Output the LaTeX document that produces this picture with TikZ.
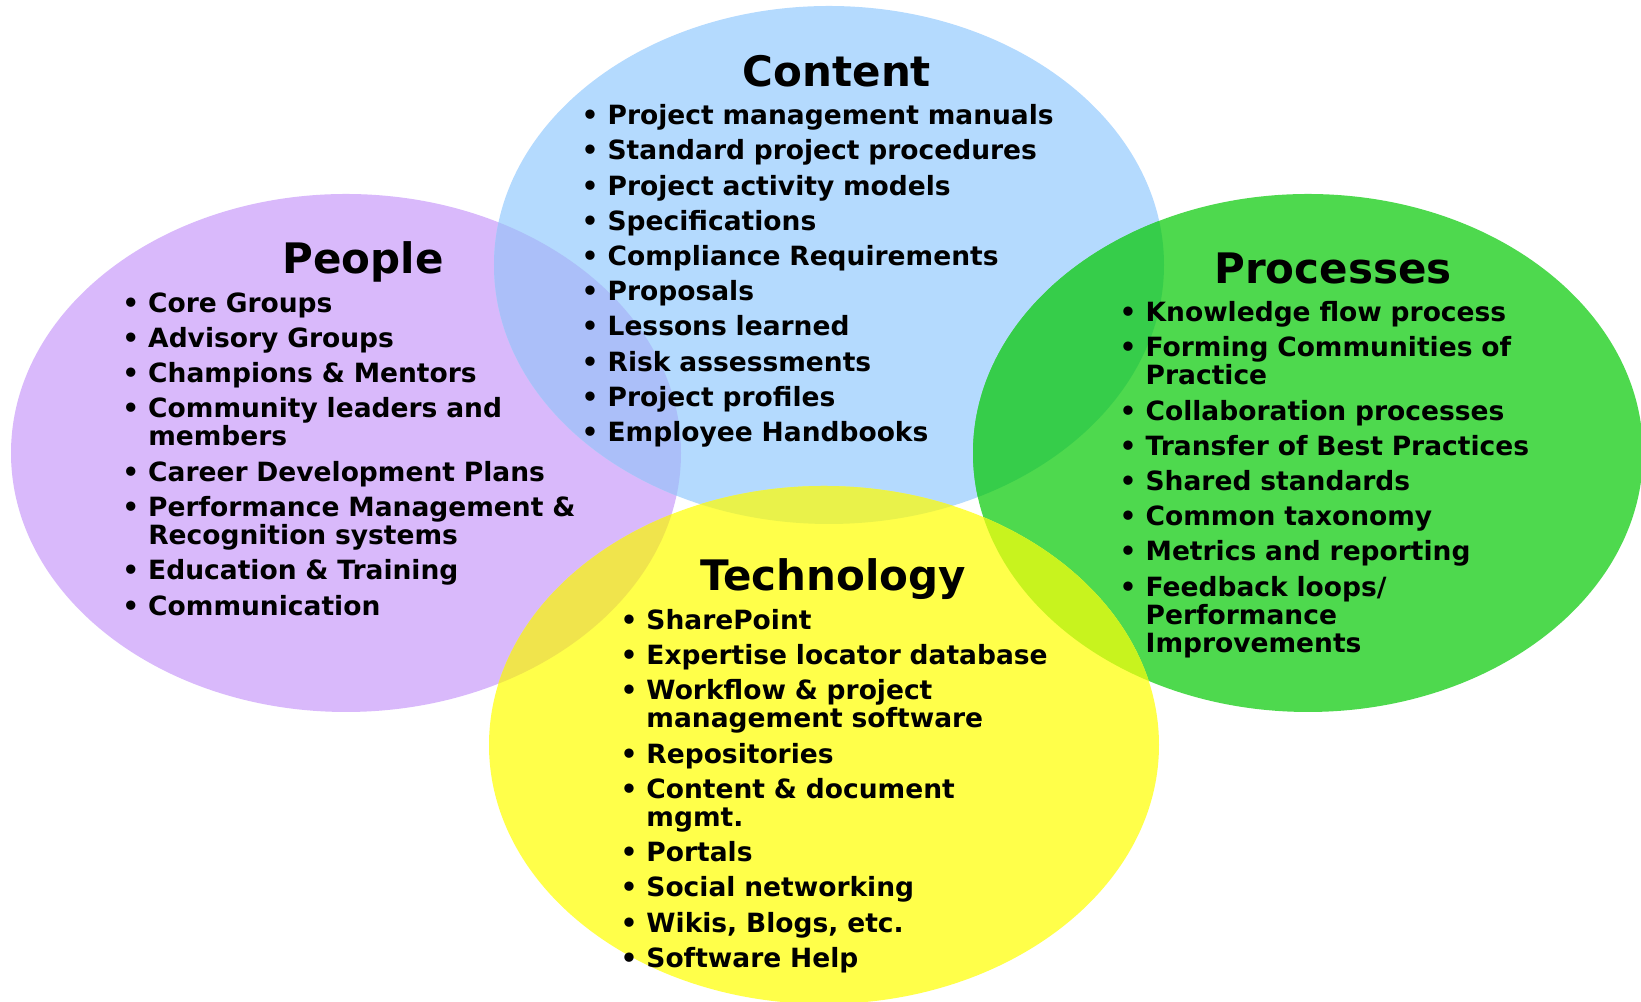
\documentclass[tikz,border=0pt]{standalone}
\usepackage{fontspec}
\setmainfont{DejaVu Sans}

\definecolor{peoplecol}{HTML}{D9B9FB}
\definecolor{contentcol}{HTML}{B4DAFE}
\definecolor{processcol}{HTML}{4ED94E}
\definecolor{techcol}{HTML}{FFFF4A}
\definecolor{pcmix}{HTML}{ABBFF9}
\definecolor{ptmix}{HTML}{F0E44C}
\definecolor{ctmix}{HTML}{E9F24A}
\definecolor{cpmix}{HTML}{36CD4A}
\definecolor{ptechmix}{HTML}{C8F31E}

% one bullet line, later lines hang under the text
\newcommand{\bitem}[1]{\setlength{\parskip}{0.069cm}\hangindent=0.98em\hangafter=1\noindent\makebox[0.98em][l]{\textbullet}#1\par}

\tikzset{
  heading/.style={font=\fontsize{11.95}{14}\selectfont\bfseries, anchor=base, inner sep=0pt},
  itemlist/.style={font=\fontsize{7.54}{8.05}\selectfont\bfseries, anchor=base west, inner sep=0pt, text width=5cm}
}

\begin{document}
\begin{tikzpicture}
  \useasboundingbox (0, 0) rectangle (16.41, 10.02);

  \coordinate (people) at (3.46, 5.49);
  \coordinate (content) at (8.29, 7.37);
  \coordinate (processes) at (13.08, 5.49);
  \coordinate (tech) at (8.24, 2.57);

  % the four sets
  \fill [peoplecol] (people) ellipse (3.35 and 2.59);
  \fill [contentcol] (content) ellipse (3.35 and 2.59);
  \fill [processcol] (processes) ellipse (3.35 and 2.59);
  \fill [techcol] (tech) ellipse (3.35 and 2.59);

  % overlaps
  \begin{scope}
    \clip (people) ellipse (3.35 and 2.59);
    \fill [pcmix] (content) ellipse (3.35 and 2.59);
    \fill [ptmix] (tech) ellipse (3.35 and 2.59);
  \end{scope}
  \begin{scope}
    \clip (tech) ellipse (3.35 and 2.59);
    \fill [ctmix] (content) ellipse (3.35 and 2.59);
    \fill [ptechmix] (processes) ellipse (3.35 and 2.59);
  \end{scope}
  \begin{scope}
    \clip (content) ellipse (3.35 and 2.59);
    \fill [cpmix] (processes) ellipse (3.35 and 2.59);
  \end{scope}

  \node [heading] (peopletitle) at (3.63, 7.288) {People};
  \node [heading] (contenttitle) at (8.37, 9.151) {Content};
  \node [heading] (processtitle) at (13.33, 7.184) {Processes};
  \node [heading] (techtitle) at (8.33, 4.117) {Technology};

  \node [itemlist] (peoplelist) at (1.216, 6.899) {%
    \bitem{Core Groups}
    \bitem{Advisory Groups}
    \bitem{Champions \& Mentors}
    \bitem{Community leaders and\newline members}
    \bitem{Career Development Plans}
    \bitem{Performance Management \&\newline Recognition systems}
    \bitem{Education \& Training}
    \bitem{Communication}};

  \node [itemlist] (contentlist) at (5.81, 8.772) {%
    \bitem{Project management manuals}
    \bitem{Standard project procedures}
    \bitem{Project activity models}
    \bitem{Specifications}
    \bitem{Compliance Requirements}
    \bitem{Proposals}
    \bitem{Lessons learned}
    \bitem{Risk assessments}
    \bitem{Project profiles}
    \bitem{Employee Handbooks}};

  \node [itemlist] (processlist) at (11.19, 6.805) {%
    \bitem{Knowledge flow process}
    \bitem{Forming Communities of\newline Practice}
    \bitem{Collaboration processes}
    \bitem{Transfer of Best Practices}
    \bitem{Shared standards}
    \bitem{Common taxonomy}
    \bitem{Metrics and reporting}
    \bitem{Feedback loops/\newline Performance\newline Improvements}};

  \node [itemlist] (techlist) at (6.198, 3.728) {%
    \bitem{SharePoint}
    \bitem{Expertise locator database}
    \bitem{Workflow \& project\newline management software}
    \bitem{Repositories}
    \bitem{Content \& document\newline mgmt.}
    \bitem{Portals}
    \bitem{Social networking}
    \bitem{Wikis, Blogs, etc.}
    \bitem{Software Help}};
\end{tikzpicture}
\end{document}
